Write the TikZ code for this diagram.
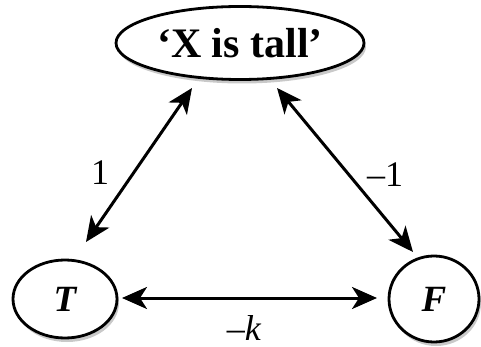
\documentclass[tikz,border=0pt]{standalone}
\usepackage{fontspec}
\setmainfont{Liberation Serif}
\usetikzlibrary{shapes.geometric,arrows.meta,shadows}
\tikzset{
  state/.style={ellipse,draw=black,line width=2.8pt,fill=white,inner sep=0pt,
    drop shadow={shadow xshift=2pt,shadow yshift=-4pt,opacity=0.3,fill=black!70}},
  tip/.style={Stealth[length=25pt,width=22pt,inset=7pt]},
  link/.style={line width=3pt,{Stealth[length=25pt,width=22pt,inset=7pt]}-{Stealth[length=25pt,width=22pt,inset=7pt]}},
  lbl/.style={font=\fontsize{36}{38}\selectfont}
}
\begin{document}
\begin{tikzpicture}[x=1pt,y=-1pt]
\useasboundingbox (0,0) rectangle (481,347);
\node[state,minimum width=248pt,minimum height=73pt,font=\fontsize{42}{44}\selectfont\bfseries] (top) at (240,43) {‘X is tall’};
\node[state,minimum width=104pt,minimum height=78pt,font=\fontsize{37}{38}\selectfont\bfseries\itshape] (T) at (65,299) {T};
\node[state,minimum width=90pt,minimum height=86pt,font=\fontsize{37}{38}\selectfont\bfseries\itshape] (F) at (434,299) {F};
\coordinate (a1) at (86,242);
\coordinate (a2) at (192,88);
\coordinate (b1) at (277,88);
\coordinate (b2) at (413,252);
\coordinate (c1) at (122,298);
\coordinate (c2) at (377,298);
\draw[link] (a1) -- (a2);
\draw[link] (b1) -- (b2);
\draw[link] (c1) -- (c2);
\node[lbl] (l1) at (100,173) {1};
\node[lbl] (l2) at (385,175) {–1};
\node[lbl] (l3) at (244,328) {–\textit{k}};
\end{tikzpicture}
\end{document}
